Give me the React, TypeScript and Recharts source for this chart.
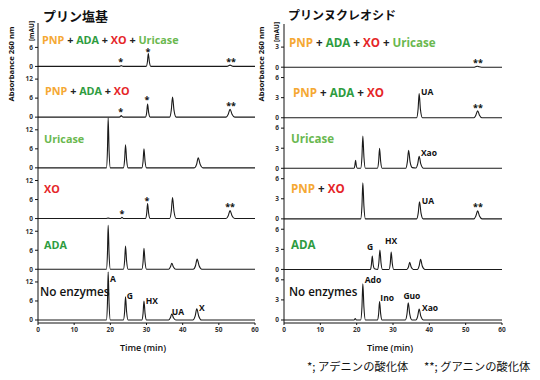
import React from 'react';
import { ComposedChart, Line, XAxis, YAxis, Scatter } from 'recharts';

type Pt = [number, number];

// ---------- axis tick labels ----------
const timeTicks = [0, 10, 20, 30, 40, 50, 60];
const baseTickLabels = [0, 6, 12];
const nucTickLabels = [0, 3, 6];

// ---------- left column: purine bases (top -> bottom) ----------
const baseAll: Pt[] = [[0,0],[22.5,0],[22.8,0.12],[23.0,0.3],[23.25,0.1],[23.6,0],[29.9,0],[30.25,1.4],[30.5,4.1],[30.8,1.4],[31.2,0],[52.0,0],[52.6,0.15],[53.1,0.4],[53.6,0.15],[54.3,0],[60,0]];
const basePAX: Pt[] = [[0,0],[22.5,0],[22.8,0.2],[23.0,0.5],[23.25,0.2],[23.6,0],[29.7,0],[30.05,1.4],[30.3,4.1],[30.6,1.4],[31.0,0],[36.4,0],[36.85,2.2],[37.2,6.3],[37.6,2.2],[38.2,0],[52.0,0],[52.6,0.9],[53.1,2.5],[53.65,0.9],[54.4,0],[60,0]];
const baseUric: Pt[] = [[0,0],[18.9,0],[19.2,5.5],[19.4,15.8],[19.65,5.5],[20.0,0],[23.6,0],[23.95,2.6],[24.2,7.3],[24.5,2.6],[24.9,0],[28.7,0],[29.05,2.1],[29.3,6.0],[29.6,2.1],[30.0,0],[43.2,0],[43.85,1.1],[44.3,3.2],[44.85,1.1],[45.6,0],[60,0]];
const baseXO: Pt[] = [[0,0],[18.8,0],[19.4,0.15],[20,0],[22.7,0],[23.0,0.15],[23.2,0.4],[23.45,0.15],[23.8,0],[29.7,0],[30.05,1.6],[30.3,4.7],[30.6,1.6],[31.0,0],[36.4,0],[36.85,2.3],[37.2,6.6],[37.6,2.3],[38.2,0],[52.0,0],[52.6,0.9],[53.1,2.5],[53.65,0.9],[54.4,0],[60,0]];
const baseADA: Pt[] = [[0,0],[18.9,0],[19.2,4.9],[19.4,13.9],[19.65,4.9],[20.0,0],[23.6,0],[23.95,2.6],[24.2,7.3],[24.5,2.6],[24.9,0],[28.7,0],[29.05,2.3],[29.3,6.6],[29.6,2.3],[30.0,0],[36.1,0],[36.6,0.7],[37.0,1.9],[37.45,0.7],[38.1,0],[42.9,0],[43.55,1.1],[44.0,3.2],[44.55,1.1],[45.3,0],[60,0]];
const baseNone: Pt[] = [[0,0],[18.9,0],[19.2,5.3],[19.4,15.1],[19.65,5.3],[20.0,0],[23.6,0],[23.95,2.6],[24.2,7.3],[24.5,2.6],[24.9,0],[28.7,0],[29.05,2.1],[29.3,6.0],[29.6,2.1],[30.0,0],[36.1,0],[36.6,0.7],[37.0,1.9],[37.45,0.7],[38.1,0],[42.8,0],[43.45,1.2],[43.9,3.5],[44.45,1.2],[45.2,0],[60,0]];

// ---------- right column: purine nucleosides (top -> bottom) ----------
const nucAll: Pt[] = [[0,0],[52.2,0],[52.7,0.06],[53.2,0.15],[53.7,0.06],[54.4,0],[60,0]];
const nucPAX: Pt[] = [[0,0],[36.5,0],[36.9,1.25],[37.2,3.6],[37.55,1.25],[38.1,0],[52.3,0],[52.8,0.38],[53.3,1.05],[53.8,0.38],[54.5,0],[60,0]];
const nucUric: Pt[] = [[0,0],[19.3,0],[19.5,0.42],[19.7,1.2],[19.9,0.42],[20.2,0],[21.1,0],[21.45,1.7],[21.7,4.8],[22.0,1.7],[22.4,0],[25.7,0],[26.05,1.05],[26.3,3.0],[26.6,1.05],[27.0,0],[33.5,0],[33.95,0.95],[34.3,2.7],[34.7,0.95],[35.3,0.1],[36.3,0.05],[36.8,0.65],[37.2,1.8],[37.65,0.65],[38.4,0],[60,0]];
const nucPX: Pt[] = [[0,0],[21.1,0],[21.45,1.9],[21.7,5.4],[22.0,1.9],[22.4,0],[36.5,0],[36.95,0.9],[37.3,2.55],[37.7,0.9],[38.3,0],[52.3,0],[52.8,0.42],[53.3,1.2],[53.8,0.42],[54.5,0],[60,0]];
const nucADA: Pt[] = [[0,0],[23.8,0],[24.05,0.7],[24.3,2.0],[24.55,0.7],[24.9,0.1],[25.8,0],[26.1,1.0],[26.4,2.9],[26.7,1.0],[27.1,0],[28.9,0],[29.25,0.9],[29.5,2.6],[29.8,0.9],[30.2,0],[33.8,0],[34.25,0.37],[34.6,1.05],[35.0,0.37],[35.6,0],[36.7,0],[37.2,0.52],[37.6,1.5],[38.05,0.52],[38.8,0],[60,0]];
const nucNone: Pt[] = [[0,0],[19.3,0],[19.6,0.2],[19.9,0],[21.1,0],[21.45,1.9],[21.7,5.4],[22.0,1.9],[22.4,0],[25.7,0],[26.05,0.95],[26.3,2.75],[26.6,0.95],[27.0,0],[33.4,0],[33.85,0.9],[34.2,2.55],[34.6,0.9],[35.2,0],[36.3,0],[36.8,0.58],[37.2,1.65],[37.65,0.58],[38.4,0],[60,0]];

// ---------- peak annotations: panel index (0 = top), time, local height ----------
type Ann = { panel: number; t: number; v: number; text: string };
const baseAnns: Ann[] = [
  { panel: 0, t: 22.9, v: 1.9, text: '*' },
  { panel: 0, t: 30.4, v: 5.1, text: '*' },
  { panel: 0, t: 53.4, v: 1.9, text: '**' },
  { panel: 1, t: 22.9, v: 2.4, text: '*' },
  { panel: 1, t: 30.1, v: 5.9, text: '*' },
  { panel: 1, t: 53.4, v: 4.3, text: '**' },
  { panel: 3, t: 23.2, v: 2.0, text: '*' },
  { panel: 3, t: 30.1, v: 6.3, text: '*' },
  { panel: 3, t: 53.1, v: 4.2, text: '**' },
  { panel: 5, t: 20.7, v: 13.2, text: 'A' },
  { panel: 5, t: 25.4, v: 7.6, text: 'G' },
  { panel: 5, t: 31.5, v: 6.3, text: 'HX' },
  { panel: 5, t: 38.7, v: 2.8, text: 'UA' },
  { panel: 5, t: 45.3, v: 3.8, text: 'X' },
];
const nucAnns: Ann[] = [
  { panel: 0, t: 53.4, v: 0.9, text: '**' },
  { panel: 1, t: 39.4, v: 3.9, text: 'UA' },
  { panel: 1, t: 53.4, v: 1.8, text: '**' },
  { panel: 2, t: 39.9, v: 2.4, text: 'Xao' },
  { panel: 3, t: 39.6, v: 2.8, text: 'UA' },
  { panel: 3, t: 53.4, v: 2.0, text: '**' },
  { panel: 4, t: 23.7, v: 3.4, text: 'G' },
  { panel: 4, t: 29.5, v: 4.3, text: 'HX' },
  { panel: 5, t: 24.5, v: 6.0, text: 'Ado' },
  { panel: 5, t: 28.4, v: 3.4, text: 'Ino' },
  { panel: 5, t: 35.2, v: 3.6, text: 'Guo' },
  { panel: 5, t: 40.2, v: 1.9, text: 'Xao' },
];

// ---------- panel labels ----------
const C = { PNP: '#F5A833', ADA: '#2E9C3F', XO: '#E52528', Uric: '#6AB84F', plus: '#222', none: '#111' };
type Part = { text: string; color: string };
const lblAll: Part[] = [{ text: 'PNP', color: C.PNP }, { text: ' + ', color: C.plus }, { text: 'ADA', color: C.ADA }, { text: ' + ', color: C.plus }, { text: 'XO', color: C.XO }, { text: ' + ', color: C.plus }, { text: 'Uricase', color: C.Uric }];
const lblPAX: Part[] = [{ text: 'PNP', color: C.PNP }, { text: ' + ', color: C.plus }, { text: 'ADA', color: C.ADA }, { text: ' + ', color: C.plus }, { text: 'XO', color: C.XO }];
const lblUric: Part[] = [{ text: 'Uricase', color: C.Uric }];
const lblXO: Part[] = [{ text: 'XO', color: C.XO }];
const lblPX: Part[] = [{ text: 'PNP', color: C.PNP }, { text: ' + ', color: C.plus }, { text: 'XO', color: C.XO }];
const lblADA: Part[] = [{ text: 'ADA', color: C.ADA }];

const baseTraces = [baseAll, basePAX, baseUric, baseXO, baseADA, baseNone];
const nucTraces = [nucAll, nucPAX, nucUric, nucPX, nucADA, nucNone];

const FONT = '"Open Sans", "DejaVu Sans", sans-serif';
const CJK = '"Noto Sans CJK JP", "Noto Sans", sans-serif';

type ColProps = {
  traces: Pt[][];
  anns: Ann[];
  off: number;
  tickLabels: number[];
  domain: [number, number];
  left: number;
  width: number;
  yAxisWidth: number;
  marginRight: number;
  marginTop: number;
};

function Column({ traces, anns, off, tickLabels, domain, left, width, yAxisWidth, marginRight, marginTop }: ColProps) {
  const n = traces.length;
  const ticks: number[] = [];
  for (let k = 0; k < n; k++) {
    tickLabels.forEach((tl, j) => {
      if (k === n - 1 && j === tickLabels.length - 1) return;
      ticks.push(k * off + tl);
    });
  }
  const fmt = (v: number) => {
    const k = Math.floor((v + 0.5) / off);
    return String(Math.round(v - k * off));
  };
  const annData = anns.map((a) => ({ t: a.t, v: a.v + (n - 1 - a.panel) * off, text: a.text }));
  const tickStyle = { fontSize: 6.5, fontFamily: FONT, fontWeight: 700, fill: '#333' };
  return (
    <div style={{ position: 'absolute', left, top: 0 }}>
      <ComposedChart width={width} height={380} margin={{ top: marginTop, right: marginRight, bottom: 37, left: 0 }}>
        <XAxis
          type="number"
          dataKey="t"
          domain={[0, 60]}
          ticks={timeTicks}
          allowDataOverflow
          tickSize={2}
          height={20}
          axisLine={{ stroke: '#111', strokeWidth: 1 }}
          tickLine={{ stroke: '#111' }}
          tick={tickStyle}
        />
        <YAxis
          type="number"
          domain={domain}
          allowDataOverflow
          ticks={ticks}
          tickFormatter={fmt}
          width={yAxisWidth}
          tickSize={3}
          interval={0}
          axisLine={{ stroke: '#111', strokeWidth: 1 }}
          tickLine={{ stroke: '#111' }}
          tick={tickStyle}
        />
        {traces.map((tr, i) => (
          <Line
            key={i}
            data={tr.map(([t, v]) => ({ t, v: v + (n - 1 - i) * off }))}
            dataKey="v"
            type="monotone"
            dot={false}
            stroke="#1a1a1a"
            strokeWidth={1.1}
            isAnimationActive={false}
          />
        ))}
        <Scatter
          data={annData}
          dataKey="v"
          isAnimationActive={false}
          shape={(p: any) => {
            const txt = p.payload.text as string;
            const star = txt.startsWith('*');
            return (
              <text
                x={p.cx}
                y={p.cy + (star ? 1.5 : 0)}
                textAnchor="middle"
                dominantBaseline="central"
                fontSize={star ? 9 : 8.5}
                fontWeight={700}
                fontFamily={FONT}
                fill="#111"
              >
                {txt}
              </text>
            );
          }}
        />
      </ComposedChart>
    </div>
  );
}

function Txt({ x, y, children, size, weight = 700, color = '#111', anchor = 'start', rotate = false, family = FONT }: any) {
  const tx = anchor === 'middle' ? '-50%' : '0';
  return (
    <div
      style={{
        position: 'absolute',
        left: x,
        top: y,
        transform: `translate(${tx}, -50%)${rotate ? ' rotate(-90deg)' : ''}`,
        whiteSpace: 'pre',
        fontSize: size,
        fontWeight: weight,
        color,
        fontFamily: family,
        lineHeight: 1,
      }}
    >
      {children}
    </div>
  );
}

function PanelLabel({ x, y, parts, size }: { x: number; y: number; parts: Part[]; size: number }) {
  return (
    <Txt x={x} y={y} size={size}>
      {parts.map((p, i) => (
        <span key={i} style={{ color: p.color }}>{p.text}</span>
      ))}
    </Txt>
  );
}

export default function App() {
  return (
    <div style={{ position: 'absolute', left: 0, top: 0, width: 540, height: 380, background: '#fff', overflow: 'hidden' }}>
      <Column traces={baseTraces} anns={baseAnns} off={16} tickLabels={baseTickLabels} domain={[-0.95, 93.7]} left={0} width={270} yAxisWidth={38} marginRight={15} marginTop={23} />
      <Column traces={nucTraces} anns={nucAnns} off={7.55} tickLabels={nucTickLabels} domain={[-0.45, 44.2]} left={260} width={270} yAxisWidth={24} marginRight={28} marginTop={24} />

      {/* titles */}
      <Txt x={43} y={15} size={13} family={CJK}>プリン塩基</Txt>
      <Txt x={288} y={15} size={12} family={CJK}>プリンヌクレオシド</Txt>

      {/* y-axis labels */}
      <Txt x={12} y={64} size={7.7} anchor="middle" rotate>Absorbance 260 nm</Txt>
      <Txt x={32} y={31} size={6.5} anchor="middle" rotate>[mAU]</Txt>
      <Txt x={262} y={64} size={7.7} anchor="middle" rotate>Absorbance 260 nm</Txt>
      <Txt x={277} y={32} size={6.5} anchor="middle" rotate>[mAU]</Txt>

      {/* x-axis titles */}
      <Txt x={143} y={347} size={9} weight={600} anchor="middle">Time (min)</Txt>
      <Txt x={390} y={347} size={9} weight={600} anchor="middle">Time (min)</Txt>

      {/* left panel labels */}
      <PanelLabel x={42} y={39.5} parts={lblAll} size={10.8} />
      <PanelLabel x={45} y={91} parts={lblPAX} size={10.8} />
      <PanelLabel x={44} y={139} parts={lblUric} size={10.8} />
      <PanelLabel x={44} y={189} parts={lblXO} size={10.8} />
      <PanelLabel x={44} y={245} parts={lblADA} size={10.8} />
      <Txt x={40} y={292} size={11.8} weight={600}>No enzymes</Txt>

      {/* right panel labels */}
      <PanelLabel x={289} y={43} parts={lblAll} size={11.6} />
      <PanelLabel x={293} y={93} parts={lblPAX} size={11.6} />
      <PanelLabel x={291} y={139} parts={lblUric} size={11.6} />
      <PanelLabel x={291} y={189} parts={lblPX} size={11.6} />
      <PanelLabel x={291} y={245} parts={lblADA} size={11.6} />
      <Txt x={289} y={292} size={11.6} weight={600}>No enzymes</Txt>

      {/* footnote */}
      <Txt x={307} y={367} size={11.3} weight={400} family={CJK}>*; アデニンの酸化体</Txt>
      <Txt x={424} y={367} size={11.3} weight={400} family={CJK}>**; グアニンの酸化体</Txt>
    </div>
  );
}
